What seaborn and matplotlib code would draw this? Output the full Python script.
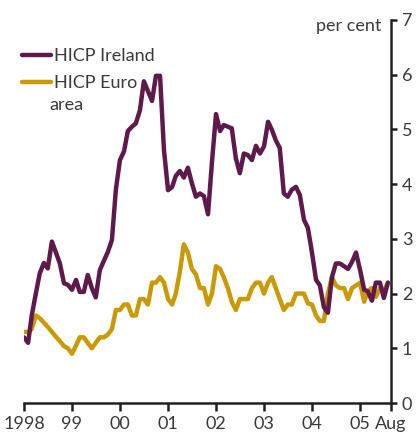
import pandas as pd
import matplotlib
matplotlib.use('Agg')
import matplotlib.pyplot as plt
import seaborn as sns

# monthly HICP inflation, Jan 1998 - Aug 2005 (per cent)
ireland = [1.2, 1.1, 1.6, 2.0, 2.37, 2.56, 2.46, 2.95, 2.75, 2.55, 2.19, 2.16,
           2.07, 2.25, 2.03, 2.03, 2.34, 2.10, 1.93, 2.43, 2.6, 2.76, 2.98, 3.9,
           4.44, 4.6, 4.97, 5.05, 5.11, 5.35, 5.88, 5.70, 5.52, 5.98, 5.98, 4.62,
           3.89, 3.95, 4.15, 4.24, 4.12, 4.30, 4.02, 3.77, 3.83, 3.78, 3.45, 4.4,
           5.28, 4.97, 5.08, 5.05, 5.02, 4.47, 4.20, 4.56, 4.53, 4.44, 4.70, 4.56,
           4.69, 5.14, 5.0, 4.8, 4.66, 3.83, 3.77, 3.90, 3.95, 3.80, 3.35, 3.20,
           2.75, 2.25, 2.15, 1.75, 1.65, 2.3, 2.55, 2.55, 2.50, 2.45, 2.58, 2.75,
           2.43, 2.07, 2.04, 1.87, 2.2, 2.2, 1.92, 2.2]
euro = [1.3, 1.3, 1.35, 1.6, 1.55, 1.47, 1.39, 1.30, 1.21, 1.13, 1.04, 1.0,
        0.9, 1.05, 1.2, 1.2, 1.1, 1.0, 1.1, 1.2, 1.2, 1.25, 1.35, 1.7,
        1.7, 1.8, 1.8, 1.6, 1.6, 1.9, 1.9, 1.8, 2.2, 2.2, 2.3, 2.2,
        1.9, 1.8, 2.0, 2.4, 2.9, 2.75, 2.45, 2.35, 2.1, 2.1, 1.8, 2.0,
        2.5, 2.45, 2.3, 2.1, 1.85, 1.7, 1.9, 1.9, 1.9, 2.1, 2.2, 2.2,
        2.0, 2.2, 2.3, 2.1, 1.9, 1.7, 1.8, 1.8, 2.0, 2.0, 2.0, 1.82,
        1.8, 1.6, 1.5, 1.5, 2.0, 2.3, 2.15, 2.1, 2.1, 1.9, 2.1, 2.15,
        2.2, 1.85, 2.05, 2.1, 1.94, 2.1, 2.05, 2.2]
months = pd.date_range('1998-01-01', periods=len(ireland), freq='MS')
year_labels = ['1998', '99', '00', '01', '02', '03', '04', '05', 'Aug']

df = pd.DataFrame({
    'month': list(months) * 2,
    'value': ireland + euro,
    'series': ['HICP Ireland'] * len(ireland) + ['HICP Euro'] * len(euro),
})

sns.set_style('white')
plt.rcParams['font.family'] = ['Lato', 'DejaVu Sans']

purple = '#5e1a4a'
gold = '#c99a06'
axis_col = '#231f20'
text_col = '#3a3a3a'
fs = 13

fig = plt.figure(figsize=(4.18, 4.36), dpi=100)
ax = fig.add_axes([24 / 418, 33 / 436, 366.7 / 418, 383 / 436])

sns.lineplot(data=df, x='month', y='value', hue='series',
             palette={'HICP Ireland': purple, 'HICP Euro': gold},
             hue_order=['HICP Euro', 'HICP Ireland'],
             linewidth=3.2, ax=ax, legend=False)

xmax = pd.Timestamp('2005-08-22')
ax.set_xlim(months[0], xmax)
ax.set_ylim(0, 7)
ticks = list(pd.date_range('1998-01-01', '2005-01-01', freq='YS')) + [xmax]
ax.set_xticks(ticks)
ax.set_xticklabels(year_labels)
ax.set_yticks(range(8))
ax.yaxis.tick_right()
ax.set_xlabel('')
ax.set_ylabel('')

for s in ['left', 'top']:
    ax.spines[s].set_visible(False)
for s in ['bottom', 'right']:
    ax.spines[s].set_color(axis_col)
    ax.spines[s].set_linewidth(1.8)
ax.tick_params(axis='x', direction='out', length=6, width=1.8, color=axis_col,
               labelsize=fs, labelcolor=text_col, pad=3, bottom=True)
ax.tick_params(axis='y', direction='out', length=4, width=1.8, color=axis_col,
               labelsize=fs, labelcolor=text_col, pad=4, right=True, left=False)

ax.text(0.975, 0.985, 'per cent', transform=ax.transAxes, ha='right', va='center',
        fontsize=fs, color=text_col)

handles = [plt.Line2D([], [], color=purple, lw=3.2, solid_capstyle='round'),
           plt.Line2D([], [], color=gold, lw=3.2, solid_capstyle='round')]
leg = fig.legend(handles, ['HICP Ireland', 'HICP Euro'], loc='upper left',
                 bbox_to_anchor=(22 / 418, 1 - 48 / 436), frameon=False,
                 fontsize=fs, handlelength=1.6, handletextpad=0.15,
                 labelspacing=0.62, borderaxespad=0, borderpad=0)
for t in leg.get_texts():
    t.set_color(text_col)
fig.text(49 / 418, 1 - 105 / 436, 'area', fontsize=fs, color=text_col, va='center')

fig.savefig('out.png', dpi=100)
